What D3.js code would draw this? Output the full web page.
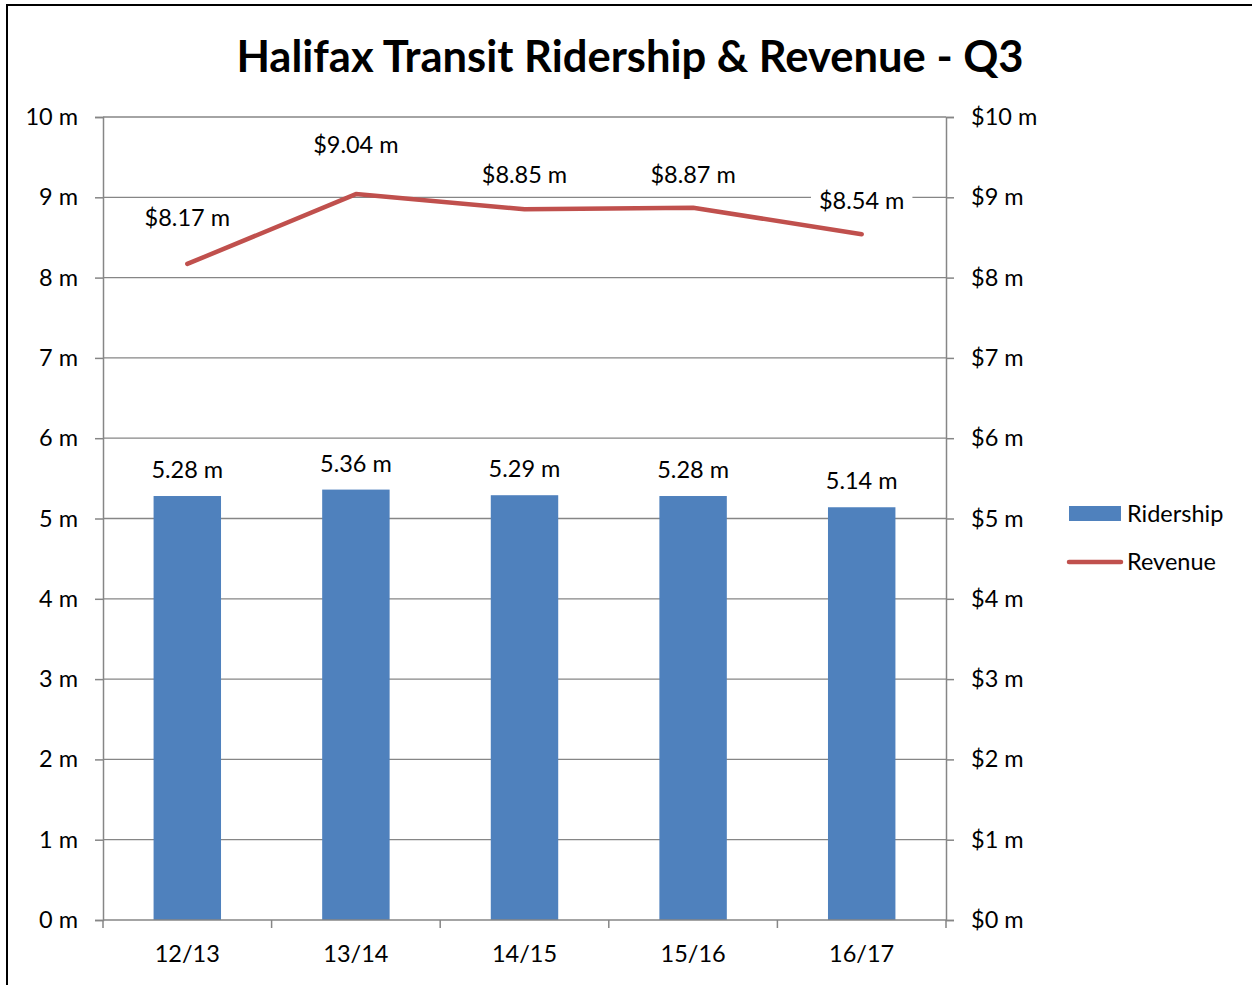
<!DOCTYPE html>
<html><head><meta charset="utf-8">
<script src="https://cdn.jsdelivr.net/npm/d3@7/dist/d3.min.js"></script>
<style>body{margin:0;background:#fff}svg{display:block}text{font-family:Lato,"Open Sans",sans-serif;fill:#000}</style>
</head><body><svg id="c" width="1252" height="985"></svg>
<script>
const categories = ["12/13","13/14","14/15","15/16","16/17"];
const ridership = [5.28,5.36,5.29,5.28,5.14];
const revenue = [8.17,9.04,8.85,8.87,8.54];
const leftTicks = [0,1,2,3,4,5,6,7,8,9,10];
const rightTicks = [0,1,2,3,4,5,6,7,8,9,10];

// layout: vertical offsets of revenue labels (pixels above point)
const revLabelOffset = [46,49,34,33,33];

const svg = d3.select("#c");
const L=103,R=946,T=117,B=920;
const FS = "23.5px";
const x = d3.scaleBand().domain(categories).range([L,R]).paddingInner(0.6).paddingOuter(0.3);
const xc = d3.scaleBand().domain(categories).range([L,R]);
const y = d3.scaleLinear().domain([0,10]).range([B,T]);
const y2 = d3.scaleLinear().domain([0,10]).range([B,T]);

svg.append("rect").attr("x",7).attr("y",5).attr("width",1260).attr("height",1000).attr("fill","none").attr("stroke","#000").attr("stroke-width",2);

svg.append("text").attr("x",630).attr("y",72).attr("text-anchor","middle").style("font-size","43.5px").style("font-weight","bold").text("Halifax Transit Ridership & Revenue - Q3");

// gridlines
svg.append("g").selectAll("line").data(leftTicks.slice(1)).join("line")
  .attr("x1",L).attr("x2",R).attr("y1",d=>y(d)).attr("y2",d=>y(d)).attr("stroke","#868686").attr("stroke-width",1.3);

// left axis
const ga = svg.append("g").attr("transform",`translate(${L},0)`).call(d3.axisLeft(y).tickValues(leftTicks).tickSize(8).tickPadding(17).tickFormat(d=>d+" m"));
ga.select(".domain").attr("stroke","#868686").attr("stroke-width",1.5);
ga.selectAll(".tick line").attr("stroke","#868686").attr("stroke-width",1.5);
ga.selectAll("text").style("font-size",FS).style("font-family","Lato,'Open Sans',sans-serif").attr("fill","#000");

const gr = svg.append("g").attr("transform",`translate(${R},0)`).call(d3.axisRight(y2).tickValues(rightTicks).tickSize(8).tickPadding(17).tickFormat(d=>"$"+d+" m"));
gr.select(".domain").attr("stroke","#868686").attr("stroke-width",1.5);
gr.selectAll(".tick line").attr("stroke","#868686").attr("stroke-width",1.5);
gr.selectAll("text").style("font-size",FS).style("font-family","Lato,'Open Sans',sans-serif").attr("fill","#000");

// bars
svg.append("g").selectAll("rect").data(ridership).join("rect")
  .attr("x",(d,i)=>x(categories[i])).attr("width",x.bandwidth())
  .attr("y",d=>y(d)).attr("height",d=>B-y(d)).attr("fill","#4F81BD");

// bottom axis
const gb = svg.append("g");
gb.append("line").attr("x1",L).attr("x2",R).attr("y1",B).attr("y2",B).attr("stroke","#868686").attr("stroke-width",1.5);
const bounds = categories.map(c=>xc(c)).concat([R]);
gb.selectAll("line.t").data(bounds).join("line").attr("class","t")
  .attr("x1",d=>d).attr("x2",d=>d).attr("y1",B).attr("y2",B+8).attr("stroke","#868686").attr("stroke-width",1.5);
gb.selectAll("text").data(categories).join("text")
  .attr("x",d=>xc(d)+xc.bandwidth()/2).attr("y",962).attr("text-anchor","middle").style("font-size",FS).text(d=>d);

// line
const line = d3.line().x((d,i)=>xc(categories[i])+xc.bandwidth()/2).y(d=>y2(d));
svg.append("path").datum(revenue).attr("d",line).attr("fill","none").attr("stroke","#C0504D").attr("stroke-width",4.5).attr("stroke-linejoin","round").attr("stroke-linecap","round");

function label(g,txt,cx,cy){
  const t = g.append("text").attr("x",cx).attr("y",cy+8).attr("text-anchor","middle").style("font-size",FS).text(txt);
  const bb = t.node().getBBox();
  g.insert("rect","text").attr("x",bb.x-8).attr("y",bb.y-2).attr("width",bb.width+16).attr("height",bb.height+4).attr("fill","#fff");
}
ridership.forEach((d,i)=>{const g=svg.append("g");label(g,d.toFixed(2)+" m",xc(categories[i])+xc.bandwidth()/2,y(d)-26);});
revenue.forEach((d,i)=>{const g=svg.append("g");label(g,"$"+d.toFixed(2)+" m",xc(categories[i])+xc.bandwidth()/2,y2(d)-revLabelOffset[i]);});

// legend
const lg = svg.append("g");
lg.append("rect").attr("x",1069).attr("y",506).attr("width",52).attr("height",15).attr("fill","#4F81BD");
lg.append("text").attr("x",1127).attr("y",522).style("font-size",FS).text("Ridership");
lg.append("line").attr("x1",1069).attr("x2",1121).attr("y1",562).attr("y2",562).attr("stroke","#C0504D").attr("stroke-width",4.5).attr("stroke-linecap","round");
lg.append("text").attr("x",1127).attr("y",570).style("font-size",FS).text("Revenue");
</script></body></html>
